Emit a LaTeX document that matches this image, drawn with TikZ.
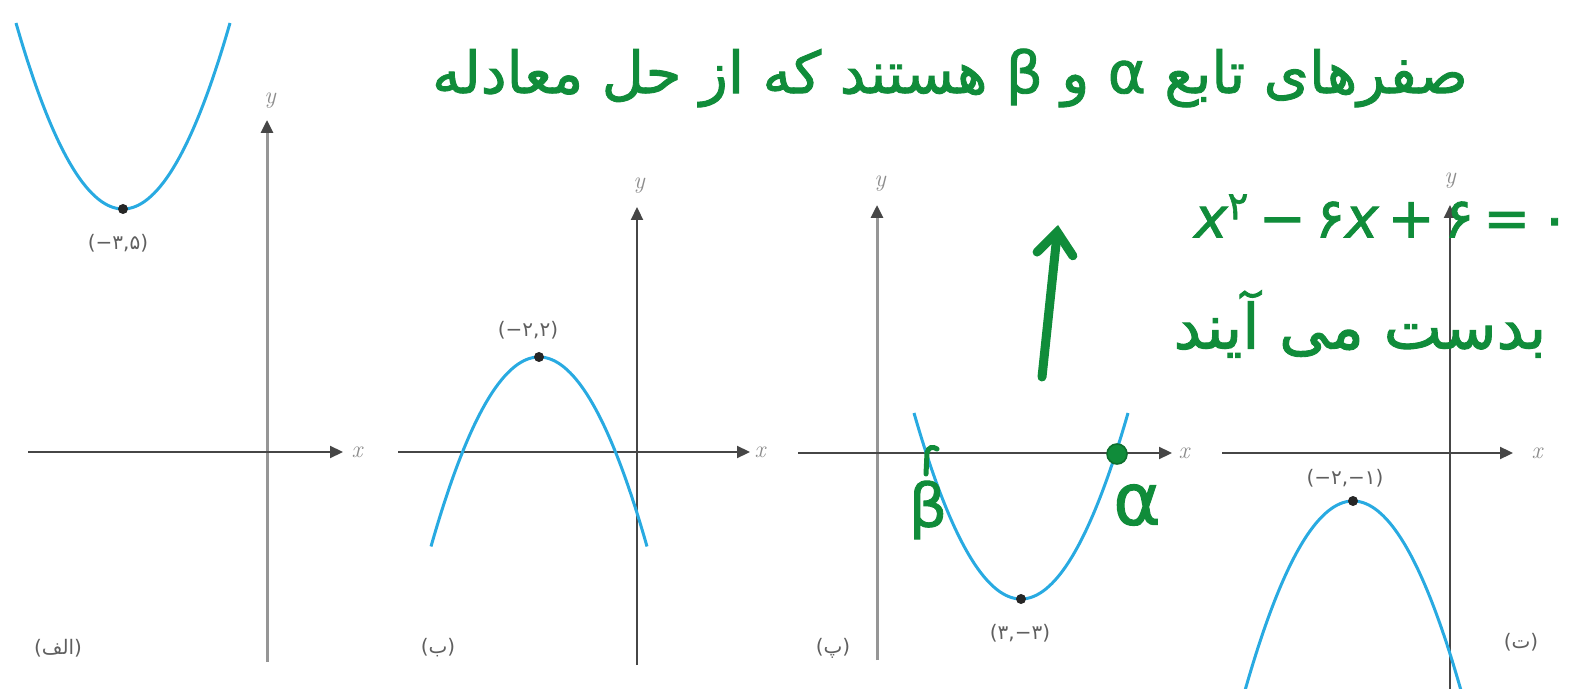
\documentclass[tikz,border=0pt]{standalone}
\usepackage{fontspec}
\usetikzlibrary{arrows.meta}
\TeXXeTstate=1
\newfontfamily\arabicfont[Script=Arabic]{DejaVu Sans}
\newfontfamily\handfont[Script=Arabic,FakeBold=1.5]{DejaVu Sans}
\newfontfamily\handlatin[FakeBold=1.5]{DejaVu Sans}
\newfontfamily\dejavu{DejaVu Sans}
\definecolor{curve}{RGB}{40,170,225}
\definecolor{pen}{RGB}{16,140,58}
\definecolor{axisdark}{RGB}{70,70,70}
\definecolor{axislight}{RGB}{150,150,150}
\definecolor{labelgray}{RGB}{95,95,95}
\begin{document}
\begin{tikzpicture}[x=0.5pt,y=-0.5pt,
  xaxis/.style={draw=axisdark, line width=1.1pt, -{Triangle[length=6.5pt,width=6pt,color=axisdark]}},
  yaxislight/.style={draw=axislight, line width=1.5pt, -{Triangle[length=6.5pt,width=6pt,color=axisdark]}},
  yaxisdark/.style={draw=axisdark, line width=1.1pt, -{Triangle[length=6.5pt,width=6pt,color=axisdark]}},
  parab/.style={draw=curve, line width=1.5pt},
  vdot/.style={circle, fill=black!85, inner sep=0pt, minimum size=5pt},
  clabel/.style={font=\dejavu\fontsize{10}{12}\selectfont, text=labelgray, inner sep=0pt},
  plabel/.style={font=\arabicfont\fontsize{10}{12}\selectfont, text=labelgray, inner sep=0pt},
  alabel/.style={font=\itshape\fontsize{12}{12}\selectfont, text=black!45, inner sep=0pt},
  hand/.style={text=pen, inner sep=0pt},
  penline/.style={draw=pen, line width=4.5pt, line cap=round, line join=round}
]
\useasboundingbox (0,0) rectangle (1584,689);
\clip (0,0) rectangle (1584,689);

% ---------- panel 1 (الف)
\coordinate (x1s) at (28,452); \coordinate (x1e) at (343,452);
\coordinate (y1s) at (267,662); \coordinate (y1e) at (267,120);
\draw[yaxislight] (y1s) -- (y1e);
\draw[xaxis] (x1s) -- (x1e);
\node[alabel] (xl1) at (357,452) {x};
\node[alabel] (yl1) at (270,101) {y};
\draw[parab] plot[domain=-107:107,samples=80,smooth] ({123+\x},{209-186*(\x/107)^2});
\node[vdot] (v1) at (123,209) {};
\node[clabel] (c1) at (118,243) {(−۳,۵)};
\node[plabel] (p1) at (58,648) {(الف)};

% ---------- panel 2 (ب)
\coordinate (x2s) at (398,452); \coordinate (x2e) at (750,452);
\coordinate (y2s) at (637,665); \coordinate (y2e) at (637,207);
\draw[yaxisdark] (y2s) -- (y2e);
\draw[xaxis] (x2s) -- (x2e);
\node[alabel] (xl2) at (760,452) {x};
\node[alabel] (yl2) at (639,186) {y};
\draw[parab] plot[domain=-108:108,samples=80,smooth] ({539+\x},{357+186*(\x/107)^2});
\node[vdot] (v2) at (539,357) {};
\node[clabel] (c2) at (528,330) {(−۲,۲)};
\node[plabel] (p2) at (438,648) {(ب)};

% ---------- panel 3 (پ)
\coordinate (x3s) at (798,453); \coordinate (x3e) at (1172,453);
\coordinate (y3s) at (877,660); \coordinate (y3e) at (877,205);
\draw[yaxislight] (y3s) -- (y3e);
\draw[xaxis] (x3s) -- (x3e);
\node[alabel] (xl3) at (1184,453) {x};
\node[alabel] (yl3) at (880,184) {y};
\draw[parab] plot[domain=-107:107,samples=80,smooth] ({1021+\x},{599-186*(\x/107)^2});
\node[vdot] (v3) at (1021,599) {};
\node[clabel] (c3) at (1020,633) {(۳,−۳)};
\node[plabel] (p3) at (833,648) {(پ)};

% ---------- panel 4 (ت)
\coordinate (x4s) at (1222,453); \coordinate (x4e) at (1513,453);
\coordinate (y4s) at (1450,700); \coordinate (y4e) at (1450,205);
\draw[yaxisdark] (y4s) -- (y4e);
\draw[xaxis] (x4s) -- (x4e);
\node[alabel] (xl4) at (1537,453) {x};
\node[alabel] (yl4) at (1450,181) {y};
\draw[parab] plot[domain=-114:114,samples=80,smooth] ({1353+\x},{501+186*(\x/107)^2});
\node[vdot] (v4) at (1353,501) {};
\node[clabel] (c4) at (1345,478) {(−۲,−۱)};
\node[plabel] (p4) at (1521,642) {(ت)};

% ---------- green handwriting
\node[hand, font=\handfont\fontsize{29}{30}\selectfont] (t1) at (950,78)
  {\beginR صفرهای تابع α و β هستند که از حل معادله\endR};
\node[hand, font=\handlatin\fontsize{28}{30}\selectfont] (t2) at (1382,216)
  {{\itshape x}\textsuperscript{۲}\,−\,۶{\itshape x}\,+\,۶\,=\,۰};
\node[hand, font=\handfont\fontsize{31}{32}\selectfont] (t3) at (1360,324)
  {\beginR بدست می آیند\endR};

\coordinate (arrowbase) at (1042,377);
\coordinate (arrowtip) at (1058,225);
\draw[penline, -{Straight Barb[length=11pt,width=18pt,line cap=round]}] (arrowbase) -- (arrowtip);

\node[circle, fill=pen, draw=pen!80!black, line width=0.8pt, minimum size=10pt, inner sep=0pt] (alphadot) at (1117,454) {};
\coordinate (tickbot) at (926,474);
\coordinate (tickmid) at (927,453);
\coordinate (tickend) at (937,449);
\draw[draw=pen, line width=2.5pt, line cap=round] (tickbot) -- (tickmid) .. controls (928,447) and (933,446) .. (tickend);
\node[hand, font=\handlatin\fontsize{30}{30}\selectfont] (beta) at (928,510) {β};
\node[hand, font=\handlatin\fontsize{36}{36}\selectfont] (alpha) at (1137,505) {α};
\end{tikzpicture}
\end{document}
